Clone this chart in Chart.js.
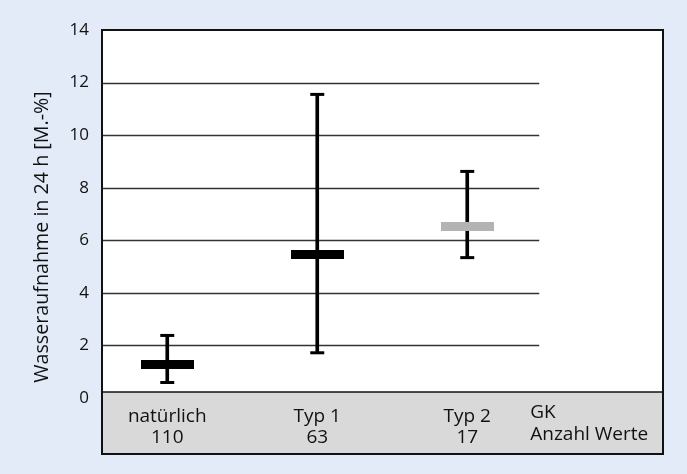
<html>
<head>
<meta charset="utf-8">
<script src="https://cdn.jsdelivr.net/npm/chart.js@4/dist/chart.umd.min.js"></script>
<style>
  body { margin: 0; background: #e2ebf7; }
</style>
</head>
<body>
<canvas id="chart" width="687" height="474"></canvas>
<script>
  // values
  var categories = ['natürlich', 'Typ 1', 'Typ 2'];
  var counts = ['110', '63', '17'];
  var meanValues = [1.28, 5.47, 6.54];
  var minValues = [0.59, 1.72, 5.34];
  var maxValues = [2.38, 11.55, 8.62];
  var rowLabels = ['GK', 'Anzahl Werte'];
  var yTicks = [0, 2, 4, 6, 8, 10, 12, 14];
  var yTitle = 'Wasseraufnahme in 24 h [M.-%]';

  var FONT = '"Open Sans", "DejaVu Sans", sans-serif';
  var INK = '#111111';

  function markImg(color) {
    var c = document.createElement('canvas');
    c.width = 53; c.height = 9;
    var g = c.getContext('2d');
    g.fillStyle = color;
    g.fillRect(0, 0, 53, 9);
    return c;
  }
  var blackMark = markImg('#000000');
  var greyMark = markImg('#b3b3b3');

  var bgPlugin = {
    id: 'bg',
    beforeDraw: function(chart) {
      var ctx = chart.ctx, a = chart.chartArea;
      var xs = chart.scales.x, ys = chart.scales.y;
      ctx.save();
      ctx.fillStyle = '#e2ebf7';
      ctx.fillRect(0, 0, chart.width, chart.height);
      var bandTop = a.bottom - 6, bandBottom = a.bottom + 56;
      ctx.fillStyle = '#ffffff';
      ctx.fillRect(a.left, a.top, a.right - a.left, bandTop - a.top);
      ctx.fillStyle = '#d9d9d9';
      ctx.fillRect(a.left, bandTop, a.right - a.left, bandBottom - bandTop);
      // grid lines, stopping short of the right edge
      var gridEnd = xs.getPixelForValue(2.48);
      ctx.strokeStyle = '#333333';
      ctx.lineWidth = 1.3;
      yTicks.forEach(function(v) {
        if (v === 0 || v === 14) return;
        var y = Math.round(ys.getPixelForValue(v)) + 0.5;
        ctx.beginPath();
        ctx.moveTo(a.left, y);
        ctx.lineTo(gridEnd, y);
        ctx.stroke();
      });
      // band top line and frame
      ctx.strokeStyle = INK;
      ctx.lineWidth = 1.5;
      ctx.beginPath();
      ctx.moveTo(a.left, bandTop);
      ctx.lineTo(a.right, bandTop);
      ctx.stroke();
      ctx.lineWidth = 2;
      ctx.strokeRect(a.left, a.top, a.right - a.left, bandBottom - a.top);
      // row labels at the right of the band
      ctx.fillStyle = INK;
      ctx.font = '19px ' + FONT;
      ctx.textAlign = 'left';
      ctx.textBaseline = 'alphabetic';
      var lx = xs.getPixelForValue(2.42);
      ctx.fillText(rowLabels[0], lx, a.bottom + 20);
      ctx.fillText(rowLabels[1], lx, a.bottom + 42);
      // y axis title
      ctx.translate(42, (ys.getPixelForValue(14) + a.bottom) / 2 + 23);
      ctx.rotate(-Math.PI / 2);
      ctx.textAlign = 'center';
      ctx.textBaseline = 'middle';
      ctx.font = '19.7px ' + FONT;
      ctx.fillText(yTitle, 0, 0);
      ctx.restore();
    }
  };

  var capData = [];
  for (var i = 0; i < categories.length; i++) {
    capData.push({x: i, y: minValues[i]});
    capData.push({x: i, y: maxValues[i]});
  }

  new Chart(document.getElementById('chart'), {
    type: 'bar',
    data: {
      datasets: [
        {
          type: 'scatter',
          label: 'Mittelwert',
          data: meanValues.map(function(v, i) { return {x: i, y: v}; }),
          pointStyle: [blackMark, blackMark, greyMark],
          pointRadius: 5,
          order: 0
        },
        {
          type: 'scatter',
          label: 'Grenzen',
          data: capData,
          pointStyle: 'line',
          pointRadius: 7,
          borderWidth: 3,
          borderColor: '#000000',
          order: 1
        },
        {
          type: 'bar',
          label: 'Spanne',
          data: minValues.map(function(v, i) { return {x: i, y: [v, maxValues[i]]}; }),
          backgroundColor: '#000000',
          barThickness: 3,
          order: 2
        }
      ]
    },
    options: {
      responsive: false,
      animation: false,
      events: [],
      layout: { padding: { top: 30, right: 24, bottom: 0, left: 0 } },
      plugins: { legend: { display: false }, tooltip: { enabled: false } },
      scales: {
        x: {
          type: 'linear',
          offset: false,
          bounds: 'data',
          min: -0.435,
          max: 3.305,
          grid: { display: false },
          border: { display: false },
          afterBuildTicks: function(scale) {
            scale.ticks = categories.map(function(c, i) { return {value: i}; });
          },
          afterFit: function(scale) { scale.height = 76; },
          ticks: {
            autoSkip: false,
            maxRotation: 0,
            padding: 0,
            color: INK,
            font: { family: FONT, size: 19, lineHeight: 1.12 },
            callback: function(v) { return [categories[v], counts[v]]; }
          }
        },
        y: {
          min: 0,
          max: 14,
          grid: { display: false },
          border: { display: false },
          afterBuildTicks: function(scale) {
            scale.ticks = yTicks.map(function(v) { return {value: v}; });
          },
          afterFit: function(scale) { scale.width = 102; },
          ticks: {
            padding: 5,
            color: INK,
            font: { family: FONT, size: 17 }
          }
        }
      }
    },
    plugins: [bgPlugin]
  });
</script>
</body>
</html>
